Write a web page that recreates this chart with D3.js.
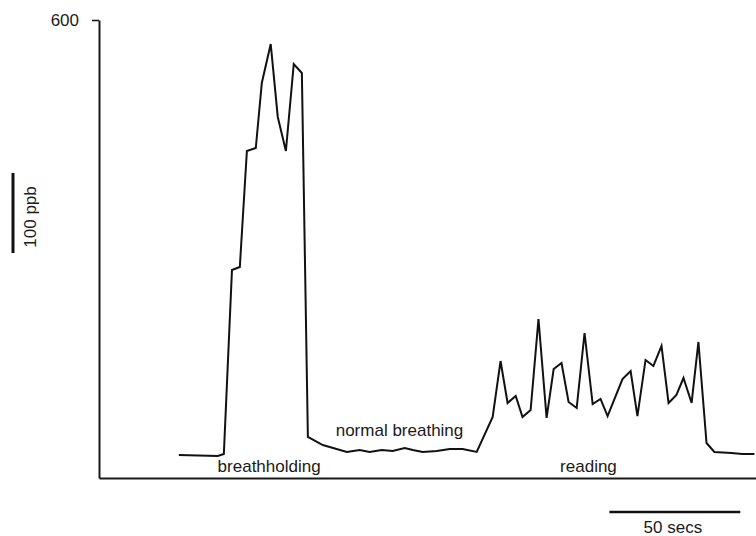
<!DOCTYPE html>
<html>
<head>
<meta charset="utf-8">
<script src="https://cdn.jsdelivr.net/npm/d3@7"></script>
<style>
  body { margin: 0; background: #fff; }
  text { font-family: "Liberation Sans", Arial, Helvetica, sans-serif; fill: #1a1a1a; }
</style>
</head>
<body>
<svg id="chart"></svg>
<script>
// trace: time in seconds, concentration in ppb
const secs = [30.5, 45.4, 47.7, 50.8, 53.8, 56.5, 59.9, 62.2, 65.6, 68.3, 71.4, 74.4, 77.5,
  79.8, 85.5, 94.7, 99.6, 103.4, 108.0, 112.2, 116.8, 119.9, 123.7, 129.0, 134.0, 138.9, 144.3,
  150.4, 153.4, 156.1, 159.2, 161.8, 164.9, 167.9, 171.0, 173.7, 176.7, 179.4, 182.5, 185.5,
  188.6, 191.6, 194.3, 200.0, 203.1, 205.7, 208.8, 211.8, 214.9, 217.6, 220.6, 223.3, 226.4,
  229.0, 232.1, 235.1, 241.6, 245.8, 250.4];
const ppb = [56.7, 55.5, 58.0, 287.8, 291.5, 436.4, 440.1, 521.3, 570.0, 478.9, 436.4, 545.0, 533.8,
  79.2, 69.2, 60.5, 63.0, 60.5, 63.0, 61.7, 65.5, 63.0, 60.5, 61.7, 64.2, 64.2, 60.5,
  104.2, 174.1, 121.7, 130.4, 104.2, 112.9, 226.6, 103.0, 164.1, 171.6, 123.0, 115.5, 209.1,
  120.4, 126.7, 105.4, 151.6, 161.6, 105.4, 175.4, 167.9, 192.9, 121.7, 131.7, 152.9, 121.7,
  197.9, 71.7, 60.5, 59.2, 58.0, 58.0];

const yTicks = [600];
// phase labels: [text, time, ppb]
const phases = [
  ["breathholding", 65, 36],
  ["normal breathing", 114.8, 80],
  ["reading", 187, 36]
];
const ppbBar = [309, 409];   // "100 ppb" scale bar
const secBar = [195, 245];   // "50 secs" scale bar

const W = 756, H = 536;
const svg = d3.select("#chart").attr("width", W).attr("height", H);

const x = d3.scaleLinear().domain([0, 251]).range([99, 756]);
const y = d3.scaleLinear().domain([28, 600]).range([478, 20]);

// axes
const yAxis = svg.append("g")
  .attr("transform", `translate(${x(0)},0)`)
  .call(d3.axisLeft(y).tickValues(yTicks).tickSize(7).tickSizeOuter(0).tickPadding(13));
yAxis.select(".domain").attr("stroke", "#1a1a1a").attr("stroke-width", 2);
yAxis.selectAll(".tick line").attr("stroke", "#1a1a1a").attr("stroke-width", 1.6);
yAxis.selectAll(".tick text").attr("font-size", 17).attr("font-family", null).attr("dy", "0.35em");

const xAxis = svg.append("g")
  .attr("transform", `translate(0,${y(28)})`)
  .call(d3.axisBottom(x).tickValues([]).tickSizeOuter(0));
xAxis.select(".domain").attr("stroke", "#1a1a1a").attr("stroke-width", 2.2);

// trace
const pts = secs.map((s, i) => [s, ppb[i]]);
svg.append("path")
  .datum(pts)
  .attr("fill", "none")
  .attr("stroke", "#111")
  .attr("stroke-width", 2)
  .attr("stroke-linejoin", "miter")
  .attr("d", d3.line().x(d => x(d[0])).y(d => y(d[1])));

// phase labels
svg.selectAll(".phase")
  .data(phases)
  .join("text")
  .attr("class", "phase")
  .attr("x", d => x(d[1]))
  .attr("y", d => y(d[2]))
  .attr("text-anchor", "middle")
  .attr("font-size", 17)
  .text(d => d[0]);

// vertical scale bar
svg.append("line")
  .attr("x1", 13).attr("x2", 13)
  .attr("y1", y(ppbBar[0])).attr("y2", y(ppbBar[1]))
  .attr("stroke", "#111").attr("stroke-width", 3);
svg.append("text")
  .attr("transform", `translate(36,${(y(ppbBar[0]) + y(ppbBar[1])) / 2 + 4}) rotate(-90)`)
  .attr("text-anchor", "middle")
  .attr("font-size", 17)
  .text("100 ppb");

// horizontal scale bar
svg.append("line")
  .attr("x1", x(secBar[0])).attr("x2", x(secBar[1]))
  .attr("y1", 512).attr("y2", 512)
  .attr("stroke", "#111").attr("stroke-width", 2.6);
svg.append("text")
  .attr("x", (x(secBar[0]) + x(secBar[1])) / 2 - 2)
  .attr("y", 533)
  .attr("text-anchor", "middle")
  .attr("font-size", 17)
  .text("50 secs");
</script>
</body>
</html>
